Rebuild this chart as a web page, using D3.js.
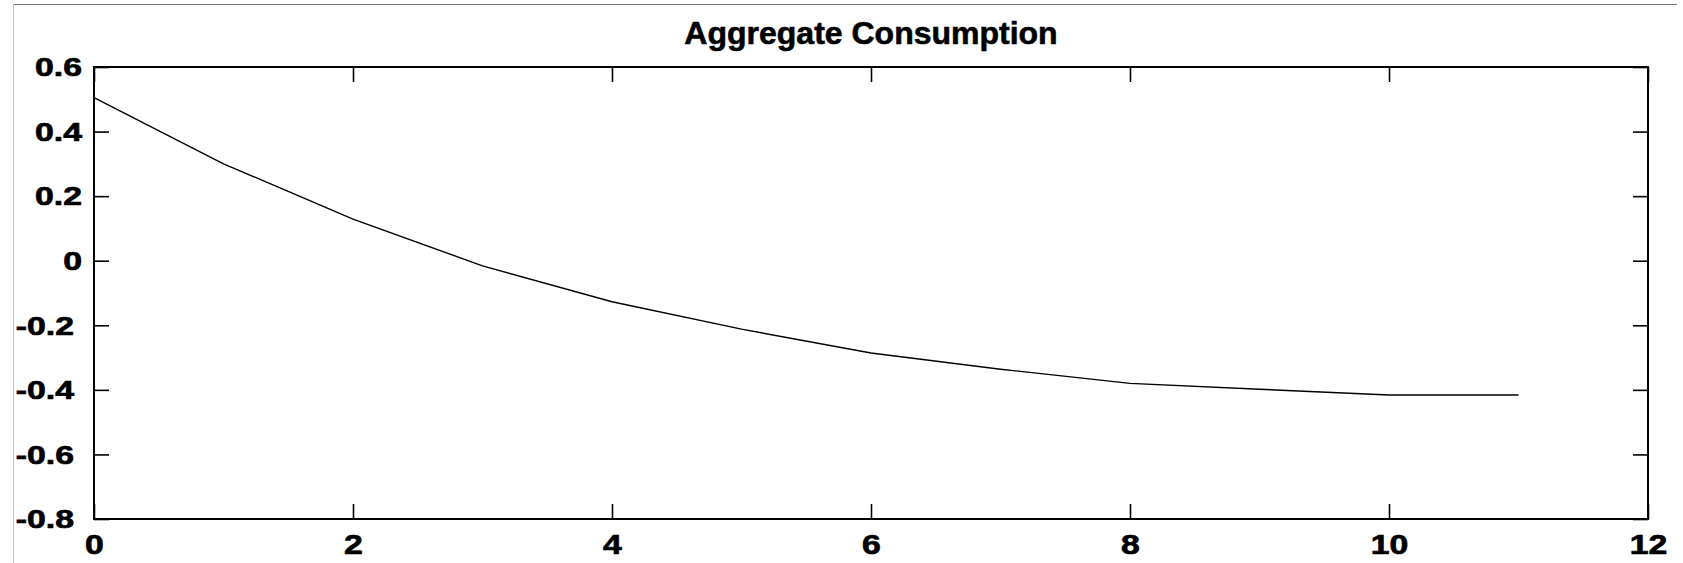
<!DOCTYPE html>
<meta charset="utf-8">
<style>
    body { margin: 0; background: #fff; }
    svg { display: block; }
    .tick line { stroke: #000; stroke-width: 1.6; }
    .tick text { font-family: "Liberation Sans", Arial, sans-serif; font-weight: bold; fill: #000; stroke: #000; stroke-width: 0.7; }
</style>
<svg width="1683" height="563"></svg>
<script src="https://d3js.org/d3.v7.min.js"></script>
<script>

    // data
    var periods = [0, 1, 2, 3, 4, 5, 6, 7, 8, 9, 10, 11];
    var consumption = [0.505, 0.300, 0.129, -0.016, -0.127, -0.212, -0.286, -0.336, -0.380, -0.398, -0.416, -0.416];
    var xTicks = [0, 2, 4, 6, 8, 10, 12];
    var yTicks = [-0.8, -0.6, -0.4, -0.2, 0, 0.2, 0.4, 0.6];
    var title = "Aggregate Consumption";

    var svg = d3.select("svg"),
        margin = { top: 67, right: 35, bottom: 44, left: 94 },
        width = +svg.attr("width") - margin.left - margin.right,
        height = +svg.attr("height") - margin.top - margin.bottom;

    // figure frame lines (top and left edge)
    svg.append("line")
        .attr("x1", 13).attr("x2", 1677).attr("y1", 4.5).attr("y2", 4.5)
        .attr("stroke", "#7a7a7a").attr("stroke-width", 1);
    svg.append("line")
        .attr("x1", 13.5).attr("x2", 13.5).attr("y1", 4).attr("y2", 563)
        .attr("stroke", "#c4c4c4").attr("stroke-width", 1);

    var g = svg.append("g")
        .attr("transform", "translate(" + margin.left + "," + margin.top + ")");

    var x = d3.scaleLinear().domain([0, 12]).range([0, width]);
    var y = d3.scaleLinear().domain([-0.8, 0.6]).range([height, 0]);

    var fmt = function (d) { return d === 0 ? "0" : d3.format(".1f")(d).replace("−", "-"); };

    // bottom axis with labels
    var xa = g.append("g")
        .attr("transform", "translate(0," + height + ")")
        .call(d3.axisBottom(x).tickValues(xTicks).tickSizeInner(-15).tickSizeOuter(0).tickPadding(16).tickFormat(d3.format("d")));
    xa.select(".domain").remove();
    xa.selectAll("text")
        .style("font-size", "27px")
        .attr("transform", "scale(1.25,1)");

    // left axis with labels
    var ya = g.append("g")
        .call(d3.axisLeft(y).tickValues(yTicks).tickSizeInner(-15).tickSizeOuter(0).tickFormat(fmt));
    ya.select(".domain").remove();
    ya.selectAll("text")
        .style("font-size", "26px")
        .attr("x", 0)
        .attr("dy", "0.34em")
        .attr("transform", function (d) { return "translate(" + (d < 0 ? -20 : -12) + ",0) scale(1.3,1)"; });

    // top and right ticks, no labels
    var xt = g.append("g")
        .call(d3.axisTop(x).tickValues(xTicks).tickSizeInner(-15).tickSizeOuter(0).tickFormat(""));
    xt.select(".domain").remove();
    var yr = g.append("g")
        .attr("transform", "translate(" + width + ",0)")
        .call(d3.axisRight(y).tickValues(yTicks).tickSizeInner(-15).tickSizeOuter(0).tickFormat(""));
    yr.select(".domain").remove();

    // box
    g.append("rect")
        .attr("x", 0).attr("y", 0)
        .attr("width", width).attr("height", height)
        .attr("fill", "none").attr("stroke", "#000").attr("stroke-width", 2);

    var line = d3.line()
        .x(function (d, i) { return x(periods[i]); })
        .y(function (d) { return y(d); });

    g.append("path")
        .datum(consumption)
        .attr("fill", "none")
        .attr("stroke", "#000")
        .attr("stroke-width", 1.4)
        .attr("d", line);

    svg.append("text")
        .attr("x", margin.left + width / 2)
        .attr("y", 44)
        .attr("text-anchor", "middle")
        .style("font-family", "\"Liberation Sans\", Arial, sans-serif")
        .style("font-weight", "bold")
        .style("font-size", "32px")
        .style("stroke", "#000")
        .style("stroke-width", 0.6)
        .text(title);

</script>
